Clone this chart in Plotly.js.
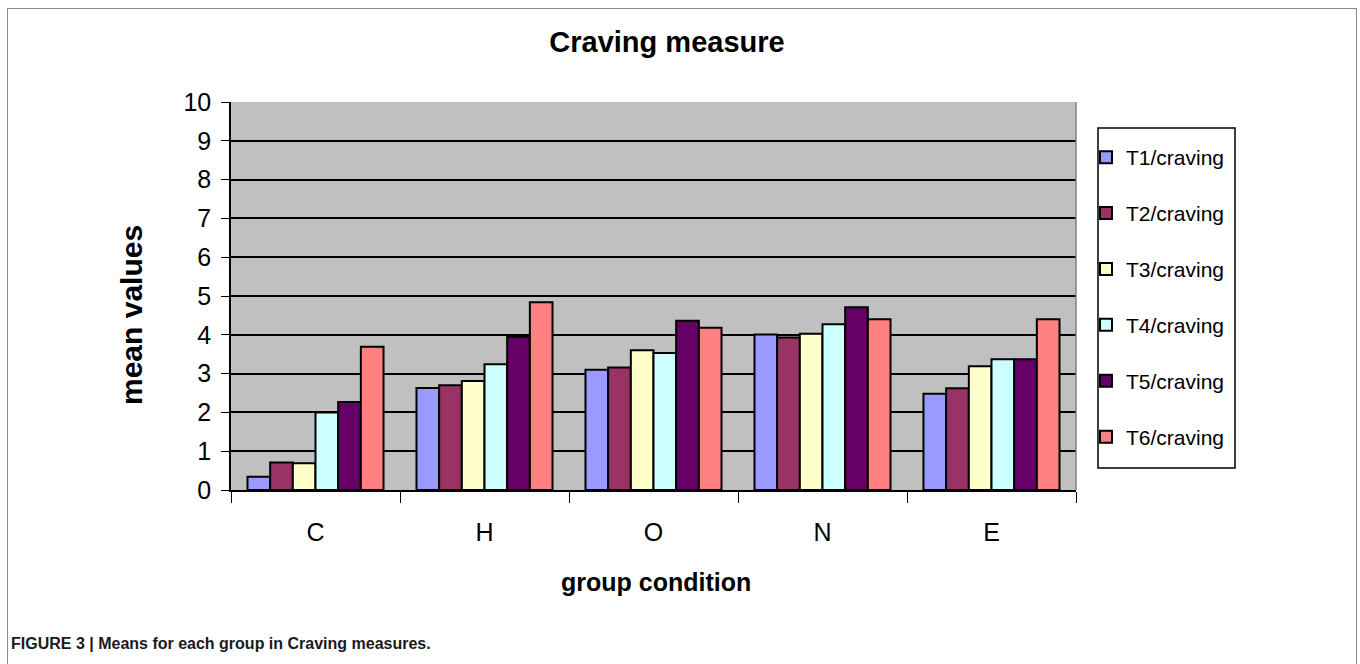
<!DOCTYPE html>
<html>
<head>
<meta charset="utf-8">
<script src="https://cdn.plot.ly/plotly-3.0.1.min.js"></script>
<style>
  html, body { margin: 0; padding: 0; background: #fff; }
  #wrap { position: relative; width: 1360px; height: 664px; overflow: hidden; }
  #chart { position: absolute; left: 0; top: 0; width: 1360px; height: 664px; }
  #frame { position: absolute; left: 7px; top: 8px; width: 1348px; height: 680px; border: 1.5px solid #8a8a8a; pointer-events: none; }
</style>
</head>
<body>
<div id="wrap">
  <div id="chart"></div>
  <div id="frame"></div>
</div>
<script>
const categories = ["C", "H", "O", "N", "E"];
const seriesNames = ["T1/craving", "T2/craving", "T3/craving", "T4/craving", "T5/craving", "T6/craving"];
const T1 = [0.34, 2.63, 3.10, 4.01, 2.48];
const T2 = [0.71, 2.70, 3.16, 3.93, 2.62];
const T3 = [0.69, 2.81, 3.60, 4.03, 3.19];
const T4 = [2.00, 3.24, 3.53, 4.27, 3.37];
const T5 = [2.27, 3.95, 4.36, 4.71, 3.37];
const T6 = [3.69, 4.84, 4.18, 4.40, 4.40];
const yTicks = [0, 1, 2, 3, 4, 5, 6, 7, 8, 9, 10];

const seriesValues = [T1, T2, T3, T4, T5, T6];
const colors = ["#9999FF", "#993366", "#FFFFCC", "#CCFFFF", "#660066", "#FF8080"];
const sans = '"Liberation Sans", Arial, sans-serif';

const traces = seriesValues.map((vals, i) => ({
  type: "bar",
  name: seriesNames[i],
  x: categories,
  y: vals,
  legendgroup: "g" + i,
  marker: { color: colors[i], line: { color: "#000", width: 2 } },
  hoverinfo: "x+y+name"
}));

const L = 231, R = 1076, T = 102, B = 490, W = 1360, H = 664;
const px = (p) => (p - L) / (R - L);
const py = (p) => (B - p) / (B - T);

const layout = {
  width: W, height: H,
  margin: { l: L, r: W - R, t: T, b: H - B, pad: 0 },
  paper_bgcolor: "rgba(0,0,0,0)",
  plot_bgcolor: "#c0c0c0",
  barmode: "group",
  bargap: 0.195,
  bargroupgap: 0,
  showlegend: true,
  title: {
    text: "<b>Craving measure</b>",
    font: { family: sans, size: 29, color: "#000" },
    x: 667 / W, xanchor: "center",
    y: 1 - 42 / H, yanchor: "middle"
  },
  xaxis: {
    type: "category",
    tickson: "boundaries",
    ticks: "outside", ticklen: 11, tickwidth: 1, tickcolor: "#000",
    showline: true, linecolor: "#000", linewidth: 1.5,
    showgrid: false,
    tickfont: { family: sans, size: 25, color: "#000" },
    ticklabelstandoff: 19,
    fixedrange: true
  },
  yaxis: {
    range: [0, 10],
    tickvals: yTicks,
    ticktext: yTicks.map(String),
    ticks: "outside", ticklen: 8, tickwidth: 1, tickcolor: "#000",
    showline: true, linecolor: "#000", linewidth: 1.5,
    showgrid: true, gridcolor: "#000", gridwidth: 1.5,
    zeroline: false,
    tickfont: { family: sans, size: 25, color: "#000" },
    ticklabelstandoff: 5,
    fixedrange: true
  },
  legend: {
    x: px(1086), xanchor: "left",
    y: py(137), yanchor: "top",
    bgcolor: "rgba(0,0,0,0)", borderwidth: 0,
    font: { family: sans, size: 21, color: "#000" },
    tracegroupgap: 25.6,
    itemwidth: 30
  },
  shapes: [
    { type: "line", xref: "paper", yref: "paper", x0: 1, x1: 1, y0: 0, y1: 1, line: { color: "#808080", width: 1.5 } },
    { type: "rect", xref: "paper", yref: "paper", x0: px(1098), x1: px(1235), y0: py(128), y1: py(468),
      fillcolor: "#fff", line: { color: "#000", width: 1.5 }, layer: "above" }
  ],
  annotations: [
    { text: "<b>mean values</b>", xref: "paper", yref: "paper", x: px(131), y: py(315), textangle: -90,
      showarrow: false, xanchor: "center", yanchor: "middle",
      font: { family: sans, size: 30, color: "#000" } },
    { text: "<b>group condition</b>", xref: "paper", yref: "paper", x: px(656), y: py(582),
      showarrow: false, xanchor: "center", yanchor: "middle",
      font: { family: sans, size: 25, color: "#000" } },
    { text: "<b>FIGURE 3 | Means for each group in Craving measures.</b>", xref: "paper", yref: "paper",
      x: px(9), y: py(643), showarrow: false, xanchor: "left", yanchor: "middle",
      font: { family: sans, size: 16, color: "#1a1a1a" } }
  ]
};

Plotly.newPlot("chart", traces, layout, { displayModeBar: false });
</script>
</body>
</html>
